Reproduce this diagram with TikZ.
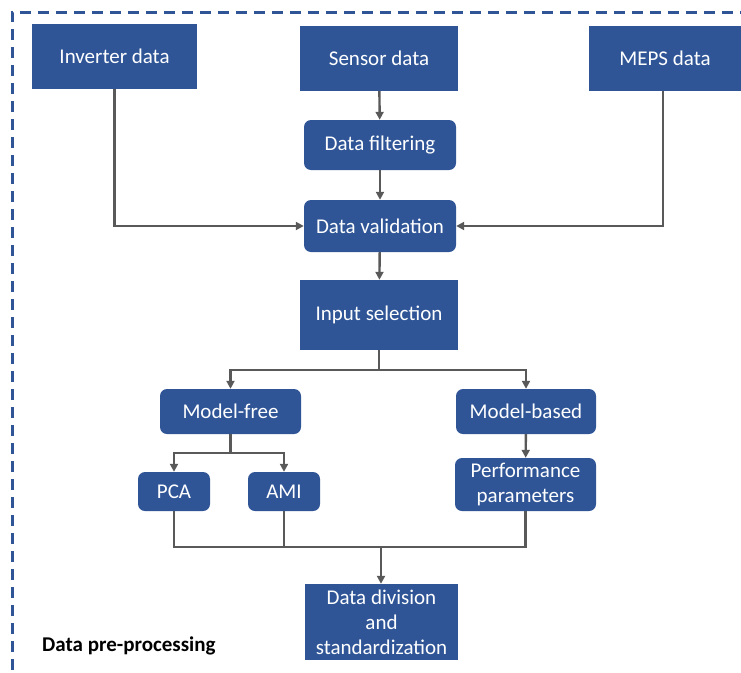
\documentclass[tikz,border=0pt]{standalone}
\usepackage{fontspec}
\setmainfont{Carlito}
\usetikzlibrary{arrows.meta}
\definecolor{boxblue}{HTML}{2F5597}
\definecolor{linegray}{HTML}{595959}
\tikzset{
  box/.style={fill=boxblue, text=white, font=\fontsize{21}{25}\selectfont, align=center, inner sep=0pt},
  rbox/.style={box, rounded corners=7pt},
  link/.style={draw=linegray, line width=2.4pt},
  arr/.style={link, -{Triangle[length=8pt,width=8pt]}},
}
\begin{document}
\begin{tikzpicture}[x=1pt,y=-1pt]
\useasboundingbox (0,0) rectangle (741,672);
\clip (0,0) rectangle (741,672);
% frame of the pre-processing stage
\draw[boxblue, line width=3pt, dash pattern=on 11pt off 7pt] (12,760) -- (12,12) -- (760,12);
% data sources
\node[box, minimum width=165pt, minimum height=65pt] (inv) at (114.5,56.5) {Inverter data};
\node[box, minimum width=158pt, minimum height=65pt] (sen) at (379,58.5) {Sensor data};
\node[box, minimum width=152pt, minimum height=65pt] (meps) at (665,58.5) {MEPS data};
% cleaning chain
\node[rbox, minimum width=152pt, minimum height=50pt] (filt) at (380,145) {Data filtering};
\node[rbox, minimum width=152pt, minimum height=52pt] (val) at (380,226) {Data validation};
\node[box, minimum width=158pt, minimum height=70pt] (sel) at (379,315) {Input selection};
% selection approaches
\node[rbox, minimum width=141pt, minimum height=45pt] (free) at (230.5,411.5) {Model-free};
\node[rbox, minimum width=140pt, minimum height=45pt] (based) at (526,411.5) {Model-based};
\node[rbox, minimum width=72pt, minimum height=39pt] (pca) at (174,491.5) {PCA};
\node[rbox, minimum width=72pt, minimum height=39pt] (ami) at (284,491.5) {AMI};
\node[rbox, minimum width=141pt, minimum height=53pt] (perf) at (525.5,484.5) {Performance\\parameters};
\node[box, minimum width=153pt, minimum height=76pt] (div) at (381.5,622) {Data division\\and\\standardization};
% stage label
\node[anchor=west, font=\bfseries\fontsize{21}{25}\selectfont, inner sep=0pt] (lbl) at (42,646) {Data pre-processing};
% connectors
\draw[arr] (sen) -- (filt);
\draw[arr] (filt) -- (val);
\draw[arr] (inv.south) |- (val.west);
\draw[arr] (meps.south -| 663,0) |- (val.east);
\draw[arr] (val) -- (sel);
\coordinate (sj) at (379,370);
\draw[link] (sel.south) -- (sj);
\draw[arr] (sj) -| (free.north);
\draw[arr] (sj) -| (based.north);
\coordinate (fj) at (230.5,453);
\draw[link] (free.south) -- (fj);
\draw[arr] (fj) -| (pca.north);
\draw[arr] (fj) -| (ami.north);
\draw[arr] (based) -- (perf);
\coordinate (mj) at (381,547);
\draw[link] (pca.south) |- (mj);
\draw[link] (ami.south) |- (mj);
\draw[link] (perf.south) |- (mj);
\draw[arr] (mj) -- (div.north -| mj);
\end{tikzpicture}
\end{document}
